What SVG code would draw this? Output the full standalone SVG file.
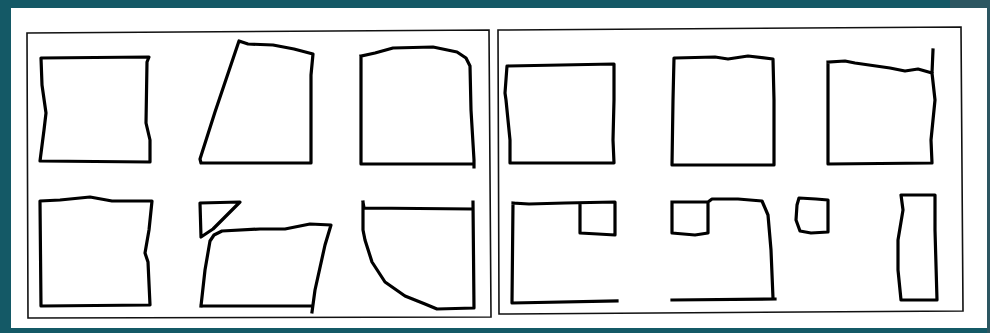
<svg xmlns="http://www.w3.org/2000/svg" width="990" height="333" viewBox="0 0 990 333">
<style>
.frame{fill:none;stroke:#111;stroke-width:1.6}
.s{fill:none;stroke:#000;stroke-width:3.2;stroke-linejoin:round;stroke-linecap:square}
</style>
<rect x="0" y="0" width="990" height="333" fill="#145966"/>
<rect x="950" y="0" width="40" height="9" fill="#2c5661"/>
<rect x="987" y="8" width="3" height="325" fill="#2c5661"/>
<rect x="11" y="8" width="976" height="320" fill="#ffffff"/>
<g id="frame-left"><path class="frame" d="M27,33 L489,30 L491,317 L28,318 Z"/></g>
<g id="frame-right"><path class="frame" d="M498,30 L961,27 L963,311 L499,314 Z"/></g>
<g id="shape-l1"><path class="s" d="M41,58 L149,57 L147,62 L146,123 L150,140 L150,162 L40,161 L44,130 L46,113 L42,85 L41,58 Z"/></g>
<g id="shape-l2"><path class="s" d="M239,41 L248,44 L273,45 L294,49 L313,54 L311,75 L311,163 L201,163 L200,159 L215,112 L239,41 Z"/></g>
<g id="shape-l3"><path class="s" d="M361,56 L375,53 L393,48 L433,47 L457,52 L466,58 L470,66 L471,110 L474,160 L474,167 M474,164 L361,164 L361,56"/></g>
<g id="shape-l4"><path class="s" d="M40,201 L60,200 L90,197 L112,201 L152,201 L149,230 L145,253 L148,262 L150,305 L41,306 L40,201 Z"/></g>
<g id="shape-l5"><path class="s" d="M200,203 L240,202 L226,216 L213,229 L201,237 Z"/></g>
<g id="shape-l6"><path class="s" d="M201,306 L205,270 L210,241 L214,235 L222,231 L260,229 L285,229 L310,224 L331,225 L325,245 L315,290 L312,312 M312,306 L201,306"/></g>
<g id="shape-l7"><path class="s" d="M363,202 L364,208 L473,209 M473,202 L474,308 L437,309 L425,304 L405,296 L385,282 L372,262 L365,240 L363,230 L363,202"/></g>
<g id="shape-r1"><path class="s" d="M508,66 L614,64 L614,100 L613,140 L614,163 L510,163 L510,140 L506,100 L505,93 L507,66 Z"/></g>
<g id="shape-r2"><path class="s" d="M675,58 L715,57 L728,59 L748,56 L773,59 L774,100 L774,165 L672,165 L673,100 L674,58 Z"/></g>
<g id="shape-r3"><path class="s" d="M828,62 L845,61 L855,63 L890,68 L905,71 L918,69 L932,73 M933,50 L932,73 L935,100 L931,140 L932,163 L828,164 L828,62"/></g>
<g id="shape-r4"><path class="s" d="M513,203 L529,204 L565,203 L615,202 L615,235 L598,234 L580,233 L580,203 M513,203 L512,303 L617,301"/></g>
<g id="shape-r5"><path class="s" d="M672,202 L708,202 L708,233 L695,235 L672,233 L672,202 M708,202 L712,199 L738,199 L762,201 L768,215 L771,250 L773,298 M672,300 L775,299"/></g>
<g id="shape-r6"><path class="s" d="M799,198 L816,199 L828,200 L828,232 L811,233 L800,231 L796,220 L797,205 Z"/></g>
<g id="shape-r7"><path class="s" d="M901,195 L935,195 L935,230 L937,300 L901,300 L898,270 L898,240 L901,222 L903,210 L901,195 Z"/></g>
</svg>
